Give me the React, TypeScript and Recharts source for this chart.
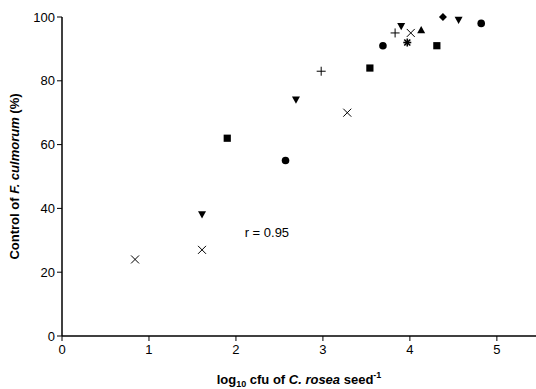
import { ScatterChart, Scatter, XAxis, YAxis, ReferenceDot } from "recharts";

// series grouped by marker symbol
const circles = [
  { x: 2.57, y: 55 },
  { x: 3.69, y: 91 },
  { x: 4.82, y: 98 },
];
const squares = [
  { x: 1.9, y: 62 },
  { x: 3.54, y: 84 },
  { x: 4.31, y: 91 },
];
const trianglesDown = [
  { x: 1.61, y: 38 },
  { x: 2.69, y: 74 },
  { x: 3.9, y: 97 },
  { x: 4.56, y: 99 },
];
const trianglesUp = [{ x: 4.13, y: 96 }];
const crosses = [
  { x: 0.84, y: 24 },
  { x: 1.61, y: 27 },
  { x: 3.28, y: 70 },
  { x: 4.01, y: 95 },
];
const pluses = [
  { x: 2.98, y: 83 },
  { x: 3.83, y: 95 },
];
const stars = [{ x: 3.97, y: 92 }];
const diamonds = [{ x: 4.38, y: 100 }];

const xTicks = [0, 1, 2, 3, 4, 5];
const yTicks = [0, 20, 40, 60, 80, 100];
const corrLabel = "r = 0.95";

const FONT = "'Liberation Sans', Arial, sans-serif";

const Circle = ({ cx, cy }: any) => <circle cx={cx} cy={cy} r={3.8} fill="#000" />;
const Square = ({ cx, cy }: any) => (
  <rect x={cx - 3.6} y={cy - 3.6} width={7.2} height={7.2} fill="#000" />
);
const TriDown = ({ cx, cy }: any) => (
  <polygon points={`${cx - 4},${cy - 3.5} ${cx + 4},${cy - 3.5} ${cx},${cy + 3.8}`} fill="#000" />
);
const TriUp = ({ cx, cy }: any) => (
  <polygon points={`${cx - 4},${cy + 3.5} ${cx + 4},${cy + 3.5} ${cx},${cy - 3.8}`} fill="#000" />
);
const Diamond = ({ cx, cy }: any) => (
  <polygon points={`${cx},${cy - 4} ${cx + 4},${cy} ${cx},${cy + 4} ${cx - 4},${cy}`} fill="#000" />
);
const Cross = ({ cx, cy }: any) => (
  <g stroke="#000" strokeWidth={1}>
    <line x1={cx - 4} y1={cy - 4} x2={cx + 4} y2={cy + 4} />
    <line x1={cx - 4} y1={cy + 4} x2={cx + 4} y2={cy - 4} />
  </g>
);
const Plus = ({ cx, cy }: any) => (
  <g stroke="#000" strokeWidth={1}>
    <line x1={cx - 4.5} y1={cy} x2={cx + 4.5} y2={cy} />
    <line x1={cx} y1={cy - 4.5} x2={cx} y2={cy + 4.5} />
  </g>
);
const Star = ({ cx, cy }: any) => (
  <g stroke="#000" strokeWidth={1.6}>
    <line x1={cx - 4} y1={cy} x2={cx + 4} y2={cy} />
    <line x1={cx} y1={cy - 4} x2={cx} y2={cy + 4} />
    <line x1={cx - 3} y1={cy - 3} x2={cx + 3} y2={cy + 3} />
    <line x1={cx - 3} y1={cy + 3} x2={cx + 3} y2={cy - 3} />
  </g>
);

const XLabel = ({ viewBox }: any) => {
  const cx = viewBox.x + viewBox.width / 2;
  return (
    <text x={cx} y={384} textAnchor="middle" fontFamily={FONT} fontSize={13} fontWeight="bold" fill="#000">
      log<tspan fontSize={9} dy={3}>10</tspan>
      <tspan dy={-3}> cfu of </tspan>
      <tspan fontStyle="italic">C. rosea</tspan>
      <tspan> seed</tspan>
      <tspan fontSize={9} dy={-6}>-1</tspan>
    </text>
  );
};

const YLabel = ({ viewBox }: any) => {
  const cy = viewBox.y + viewBox.height / 2;
  return (
    <text
      x={19}
      y={cy}
      transform={`rotate(-90, 19, ${cy})`}
      textAnchor="middle"
      fontFamily={FONT}
      fontSize={13}
      fontWeight="bold"
      fill="#000"
    >
      Control of <tspan fontStyle="italic">F. culmorum</tspan> (%)
    </text>
  );
};

const CorrText = ({ cx, cy }: any) => (
  <text x={cx} y={cy} fontFamily={FONT} fontSize={13} fill="#000" dominantBaseline="middle">
    {corrLabel}
  </text>
);

export default function App() {
  return (
    <div style={{ position: "fixed", left: 0, top: 0, background: "#fff" }}>
      <ScatterChart width={536} height={389} margin={{ top: 17, right: 0, bottom: 23, left: 0 }}>
        <XAxis
          type="number"
          dataKey="x"
          domain={[0, 5.45]}
          ticks={xTicks}
          height={30}
          allowDataOverflow
          tickLine={{ stroke: "#000" }}
          axisLine={{ stroke: "#000", strokeWidth: 1.5 }}
          tickSize={5}
          tick={{ fill: "#000", fontSize: 13, fontFamily: FONT, dy: 2 }}
          label={<XLabel />}
        />
        <YAxis
          type="number"
          dataKey="y"
          domain={[0, 100]}
          ticks={yTicks}
          width={62}
          tickLine={{ stroke: "#000" }}
          axisLine={{ stroke: "#000", strokeWidth: 1.5 }}
          tickSize={5}
          tick={{ fill: "#000", fontSize: 13, fontFamily: FONT }}
          label={<YLabel />}
        />
        <ReferenceDot x={2.1} y={32} r={0} shape={<CorrText />} />
        <Scatter data={circles} shape={<Circle />} isAnimationActive={false} />
        <Scatter data={squares} shape={<Square />} isAnimationActive={false} />
        <Scatter data={trianglesDown} shape={<TriDown />} isAnimationActive={false} />
        <Scatter data={trianglesUp} shape={<TriUp />} isAnimationActive={false} />
        <Scatter data={crosses} shape={<Cross />} isAnimationActive={false} />
        <Scatter data={pluses} shape={<Plus />} isAnimationActive={false} />
        <Scatter data={stars} shape={<Star />} isAnimationActive={false} />
        <Scatter data={diamonds} shape={<Diamond />} isAnimationActive={false} />
      </ScatterChart>
    </div>
  );
}
